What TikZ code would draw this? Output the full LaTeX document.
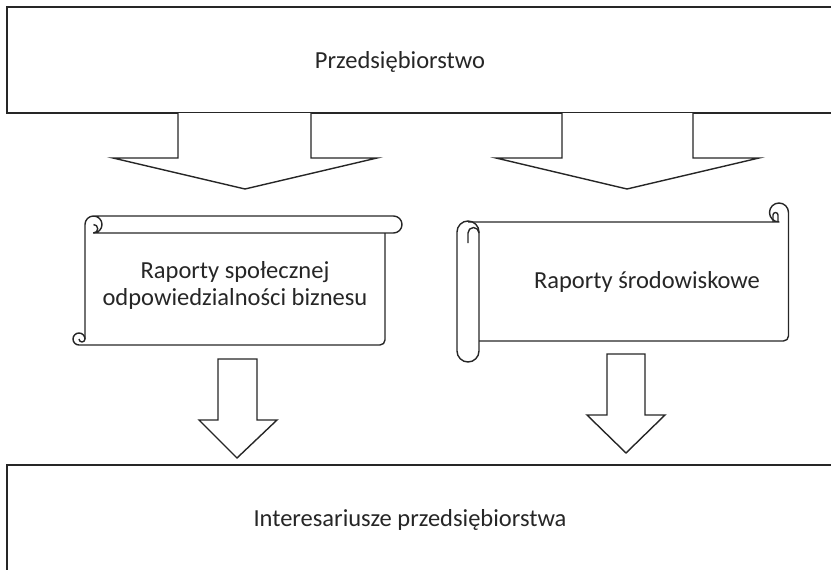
\documentclass[tikz,border=0pt]{standalone}
\usepackage{fontspec}
\setmainfont{Carlito}
\usetikzlibrary{positioning}
\tikzset{
	box/.style={line width=1.9pt, black!85},
	blockarrow/.style={line width=1.4pt, black!85, fill=white, line join=miter},
	scroll/.style={line width=1.4pt, black!85, line join=round},
	label/.style={align=center, text=black!85, font=\fontsize{24.5}{27}\selectfont, inner sep=0pt}
}
\begin{document}
\begin{tikzpicture}[x=1pt, y=-1pt]
			\useasboundingbox (0,0) rectangle (831,570);
			\clip (0,0) rectangle (831,570);
			
			% boxes (open to the right / bottom)
			\draw[box] (860,7) -- (7,7) -- (7,113) -- (860,113);
			\draw[box] (860,465) -- (7,465) -- (7,590);
			
			\node (firma) [label] at (400,62) {Przedsiębiorstwo};
			\node (inter) [label] at (410,520) {Interesariusze przedsiębiorstwa};
			
			% arrows from the top box
			\draw[blockarrow] (178,113) -- (178,158) -- (113,158) -- (245,189) -- (377,158) -- (311,158) -- (311,113);
			\draw[blockarrow] (562,113) -- (562,158) -- (496,158) -- (627,189) -- (759,158) -- (693,158) -- (693,113);
			
			% left scroll
			\begin{scope}[scroll]
				\draw (385,233) -- (385,340) arc[start angle=0, end angle=90, radius=5] -- (79,345)
					arc[start angle=90, end angle=360, radius=6] arc[start angle=0, end angle=180, radius=3];
				\draw (85,339) -- (85,224.5) arc[start angle=180, end angle=270, radius=8.5] -- (393.5,216)
					arc[start angle=-90, end angle=90, radius=8.5] -- (93.5,233)
					arc[start angle=90, end angle=-90, radius=8.5];
				\draw (93.5,233) arc[start angle=90, end angle=-90, radius=4.25];
			\end{scope}
			\node (csr) [label] at (235,285) {Raporty społecznej\\odpowiedzialności biznesu};
			
			% right scroll
			\begin{scope}[scroll]
				\draw (479,341) -- (783.5,341) arc[start angle=90, end angle=0, radius=5] -- (788.5,212.5)
					arc[start angle=0, end angle=-270, radius=9.5] -- (468,222);
				\draw (773,222) -- (773,215) arc[start angle=180, end angle=360, radius=2.5] -- (778,222);
				\draw (479,232) -- (479,351) arc[start angle=0, end angle=180, radius=11] -- (457,232)
					arc[start angle=180, end angle=360, radius=11];
				\draw (468,243) -- (468,233) arc[start angle=180, end angle=360, radius=5.5] -- (479,233);
			\end{scope}
			\node (env) [label] at (647,282) {Raporty środowiskowe};
			
			% arrows to the bottom box
			\draw[blockarrow] (218,359) -- (218,420) -- (199,420) -- (237,458) -- (277,420) -- (257,420) -- (257,359) -- cycle;
			\draw[blockarrow] (607,354) -- (607,415) -- (587,415) -- (626,453) -- (665,415) -- (645,415) -- (645,354) -- cycle;
\end{tikzpicture}
\end{document}
